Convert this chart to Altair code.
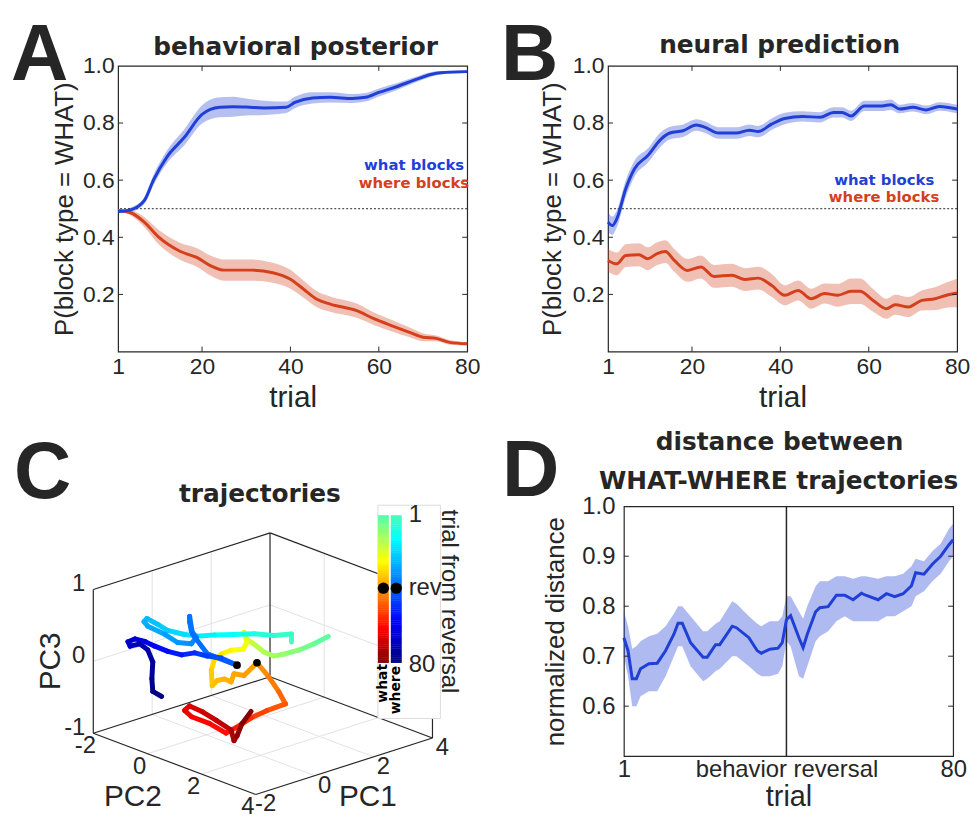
import altair as alt
import pandas as pd

FONT = "Liberation Sans"
BFONT = "DejaVu Sans"
INK = "#262626"
BLUE = "#1f3fd6"
RED = "#d5401c"

# ---------------- Panel A: behavioral posterior ----------------
A_WHAT_T = [1, 4, 7, 9, 12, 16, 20, 24, 27, 30, 34, 39, 41, 45, 49, 54, 57, 60, 64, 68, 72, 74, 80]
A_WHAT_V = [0.49, 0.497, 0.53, 0.60, 0.68, 0.75, 0.83, 0.855, 0.857, 0.856, 0.853, 0.855, 0.872,
            0.888, 0.89, 0.886, 0.89, 0.907, 0.927, 0.95, 0.971, 0.976, 0.98]
A_WHAT_E = [0.005, 0.008, 0.012, 0.018, 0.022, 0.028, 0.032, 0.035, 0.035, 0.03, 0.025, 0.02, 0.02,
            0.02, 0.018, 0.016, 0.015, 0.014, 0.012, 0.01, 0.008, 0.006, 0.005]
A_WHERE_T = [1, 4, 7, 10, 15, 19, 22, 25, 31, 36, 40, 43, 46, 49, 55, 59, 63, 67, 70, 73, 76, 80]
A_WHERE_V = [0.494, 0.485, 0.452, 0.403, 0.351, 0.328, 0.30, 0.285, 0.285, 0.276, 0.253, 0.218,
             0.183, 0.166, 0.143, 0.114, 0.09, 0.067, 0.05, 0.046, 0.032, 0.027]
A_WHERE_E = [0.005, 0.01, 0.018, 0.025, 0.03, 0.033, 0.035, 0.037, 0.037, 0.035, 0.033, 0.03,
             0.028, 0.027, 0.025, 0.022, 0.02, 0.017, 0.014, 0.01, 0.008, 0.006]

# ---------------- Panel B: neural prediction ----------------
B_WHAT_T = [1, 2, 3, 5, 7, 10, 13, 15, 18, 21, 23, 26, 30, 33, 35, 38, 41, 45, 49, 52, 54, 56, 59,
            63, 65, 67, 70, 73, 76, 80]
B_WHAT_V = [0.453, 0.441, 0.465, 0.569, 0.64, 0.686, 0.744, 0.765, 0.773, 0.793, 0.785, 0.765,
            0.765, 0.775, 0.77, 0.796, 0.816, 0.823, 0.82, 0.837, 0.837, 0.825, 0.86, 0.86, 0.864,
            0.849, 0.855, 0.846, 0.858, 0.849]
B_WHAT_E = [0.035, 0.032, 0.03, 0.03, 0.028, 0.025, 0.025, 0.022, 0.022, 0.02, 0.02, 0.02, 0.02,
            0.02, 0.02, 0.02, 0.02, 0.018, 0.018, 0.018, 0.018, 0.018, 0.018, 0.018, 0.018, 0.015,
            0.015, 0.015, 0.015, 0.015]
B_WHERE_T = [1, 3, 5, 8, 10, 12, 14, 16, 19, 22, 25, 29, 32, 35, 38, 41, 44, 47, 50, 53, 56, 58,
             61, 64, 66, 69, 72, 75, 78, 80]
B_WHERE_V = [0.319, 0.307, 0.336, 0.339, 0.325, 0.342, 0.35, 0.319, 0.284, 0.296, 0.263, 0.267,
             0.252, 0.257, 0.232, 0.197, 0.214, 0.185, 0.203, 0.197, 0.211, 0.211, 0.179, 0.15,
             0.164, 0.156, 0.179, 0.185, 0.199, 0.205]
B_WHERE_E = [0.04, 0.04, 0.04, 0.04, 0.04, 0.04, 0.04, 0.04, 0.04, 0.04, 0.04, 0.04, 0.04, 0.04,
             0.04, 0.035, 0.035, 0.035, 0.035, 0.04, 0.045, 0.045, 0.04, 0.035, 0.035, 0.035,
             0.035, 0.04, 0.045, 0.05]

# ---------------- Panel C: 3-D trajectories (PC1, PC2, PC3) ----------------
WHAT_T = [1, 4, 7, 10, 12, 14, 16, 18, 20, 22, 24, 26, 28, 30, 32, 34, 35, 36, 37, 38, 39, 40, 43,
          46, 48, 51, 54, 57, 59, 61, 63, 65, 66, 68, 70, 72, 74, 76, 78, 80]
WHAT_PC1 = [3.22, 2.72, 2.21, 1.71, 1.37, 1.03, 0.73, 0.46, 0.36, 0.46, 0.33, -0.08, -0.41, -0.65,
            -0.75, -0.72, -0.55, -0.31, -0.08, 0.02, 0.36, 0.80, 1.20, 1.54, 1.77, 1.13, 0.60,
            0.09, -0.25, -0.82, -1.42, -1.66, -1.49, -1.05, -0.58, -0.08, 0.02, 0.12, 0.29, 0.60]
WHAT_PC2 = [1.0, 1.0, 1.0, 1.0, 1.0, 1.0, 1.0, 1.0, 1.0, 1.0, 1.0, 1.0, 1.0, 1.0, 1.0, 1.0, 1.0,
            1.0, 1.0, 1.0, 1.0, 1.0, 1.0, 1.0, 1.0, 1.0, 1.0, 1.0, 1.0, 1.0, 1.0, 1.0, 1.0, 1.0,
            1.0, 1.0, 1.0, 1.0, 1.0, 1.0]
WHAT_PC3 = [0.09, 0.05, 0.03, 0.04, 0.06, 0.16, 0.30, 0.41, 0.52, 0.37, 0.29, 0.33, 0.32, 0.27,
            0.14, -0.08, -0.03, -0.04, -0.11, -0.01, -0.08, 0.04, -0.21, -0.46, -0.66, -0.67,
            -0.70, -0.77, -0.80, -0.59, -0.42, -0.30, -0.26, -0.40, -0.58, -0.78, -0.94, -0.89,
            -0.74, -0.61]
WHERE_T = [1, 3, 5, 8, 11, 14, 17, 19, 21, 23, 25, 26, 27, 29, 31, 33, 34, 35, 36, 37, 38, 39, 40,
           43, 46, 49, 52, 55, 58, 61, 64, 66, 68, 70, 72, 74, 76, 78, 80]
WHERE_PC1 = [3.81, 3.81, 3.21, 2.54, 1.86, 1.19, 0.62, 0.18, -0.39, -0.73, -1.10, -1.20, -1.07,
             -0.49, -0.06, 0.41, 0.58, 0.41, 0.35, 0.35, 0.45, 0.95, 1.96, 1.42, 0.95, 0.52, 0.08,
             -0.39, -0.83, -1.17, -1.51, -1.74, -1.67, -1.34, -1.07, -0.90, -0.93, -0.90, -0.60]
WHERE_PC2 = [-1.0, -1.0, -1.0, -1.0, -1.0, -1.0, -1.0, -1.0, -1.0, -1.0, -1.0, -1.0, -1.0, -1.0,
             -1.0, -1.0, -1.0, -1.0, -1.0, -1.0, -1.0, -1.0, -1.0, -1.0, -1.0, -1.0, -1.0, -1.0,
             -1.0, -1.0, -1.0, -1.0, -1.0, -1.0, -1.0, -1.0, -1.0, -1.0, -1.0]
WHERE_PC3 = [-0.35, -0.24, -0.18, -0.07, 0.01, 0.09, 0.15, 0.23, 0.36, 0.49, 0.62, 0.59, 0.51,
             0.32, 0.15, 0.07, 0.14, 0.25, 0.38, 0.46, 0.20, -0.14, -0.43, -0.26, -0.17, -0.07,
             -0.04, 0.07, 0.20, 0.31, 0.39, 0.38, 0.31, 0.30, 0.18, -0.01, -0.24, -0.42, -0.53]
REV_TRIAL = 40
PC1_LIM = [-2, 4]
PC2_LIM = [-2, 4]
PC3_LIM = [-1, 1]
PC1_TICKS = [-2, 0, 2, 4]
PC2_TICKS = [-2, 0, 2, 4]
PC3_TICKS = [-1, 0, 1]
N_TRIALS = 80

# ---------------- Panel D: distance between trajectories ----------------
D_T = [1, 2, 3, 4, 5, 7, 9, 11, 13, 14, 15, 17, 20, 21, 23, 24, 27, 28, 31, 33, 34, 36, 38, 39,
       40, 41, 43, 44, 45, 47, 48, 50, 52, 54, 56, 58, 59, 62, 64, 66, 68, 70, 71, 73, 75, 77, 79, 80]
D_V = [0.737, 0.711, 0.655, 0.655, 0.675, 0.685, 0.686, 0.711, 0.744, 0.766, 0.766, 0.727, 0.698,
       0.698, 0.723, 0.723, 0.76, 0.757, 0.737, 0.711, 0.706, 0.714, 0.716, 0.727, 0.773, 0.781,
       0.737, 0.717, 0.744, 0.789, 0.797, 0.799, 0.822, 0.822, 0.813, 0.826, 0.822, 0.813, 0.825,
       0.819, 0.825, 0.841, 0.867, 0.864, 0.884, 0.90, 0.923, 0.933]
D_LO = [0.70, 0.66, 0.60, 0.60, 0.62, 0.63, 0.63, 0.66, 0.70, 0.72, 0.72, 0.68, 0.65, 0.655, 0.67,
        0.675, 0.70, 0.70, 0.68, 0.665, 0.66, 0.66, 0.665, 0.68, 0.73, 0.72, 0.66, 0.655, 0.68,
        0.73, 0.74, 0.75, 0.77, 0.78, 0.77, 0.77, 0.77, 0.77, 0.78, 0.78, 0.79, 0.80, 0.82, 0.83,
        0.85, 0.865, 0.89, 0.90]
D_HI = [0.79, 0.76, 0.715, 0.72, 0.73, 0.74, 0.745, 0.76, 0.785, 0.80, 0.80, 0.78, 0.75, 0.75,
        0.765, 0.77, 0.81, 0.805, 0.78, 0.765, 0.76, 0.77, 0.77, 0.78, 0.82, 0.82, 0.79, 0.775,
        0.80, 0.84, 0.85, 0.85, 0.86, 0.86, 0.855, 0.86, 0.86, 0.855, 0.86, 0.86, 0.865, 0.88,
        0.895, 0.89, 0.91, 0.925, 0.955, 0.965]
D_REV = 40

P_TICKS = [0.2, 0.4, 0.6, 0.8, 1.0]
TRIAL_TICKS = [1, 20, 40, 60, 80]
D_YTICKS = [0.6, 0.7, 0.8, 0.9, 1.0]

LETTER_SIZE = 80
LETTER_Y = 14      # baseline of the top panel letters relative to the plot top


# ================= helpers =================
def text_layer(txt, x, y, size, weight="normal", font=FONT, align="left",
               baseline="alphabetic", color=INK, angle=0):
    return alt.Chart(pd.DataFrame({"txt": [txt]})).mark_text(
        align=align, baseline=baseline, fontSize=size, fontWeight=weight,
        font=font, color=color, angle=angle
    ).encode(text="txt:N", x=alt.value(x), y=alt.value(y))


def band_frame(t, v, e):
    return pd.DataFrame({"trial": t, "v": v,
                         "lo": [a - b for a, b in zip(v, e)],
                         "hi": [a + b for a, b in zip(v, e)]})


def inward_ticks(X, Y, xvals, yvals, W, H, L=5):
    layers = []
    ydf = pd.DataFrame({"v": yvals})
    xdf = pd.DataFrame({"trial": xvals})
    for x0, x1 in [(0, L), (W - L, W)]:
        layers.append(alt.Chart(ydf).mark_rule(color=INK, strokeWidth=1).encode(
            y=Y("v"), x=alt.value(x0), x2=alt.value(x1)))
    if xvals:
        for y0, y1 in [(0, L), (H - L, H)]:
            layers.append(alt.Chart(xdf).mark_rule(color=INK, strokeWidth=1).encode(
                x=X("trial"), y=alt.value(y0), y2=alt.value(y1)))
    return layers


def prob_panel(W, H, what, where, letter, title, title_x, title_y, leg, ypad, ytpad):
    xs = alt.Scale(domain=[1, 80], nice=False, zero=False)
    ys = alt.Scale(domain=[0, 1], nice=False, zero=False)
    xaxis = alt.Axis(values=TRIAL_TICKS, title="trial", labelFontSize=23, titleFontSize=30,
                     labelFont=FONT, titleFont=FONT, labelColor=INK, titleColor=INK,
                     titleFontWeight="normal", domain=False, ticks=False, grid=False,
                     labelPadding=4, titlePadding=4, labelFlush=False)
    yaxis = alt.Axis(values=P_TICKS, format=".1f", title="P(block type = WHAT)", labelFontSize=23,
                     titleFontSize=26, labelFont=FONT, titleFont=FONT, labelColor=INK,
                     titleColor=INK, titleFontWeight="normal", domain=False, ticks=False,
                     grid=False, labelPadding=ypad, titlePadding=ytpad, labelFlush=False)

    def X(f):
        return alt.X(f + ":Q", scale=xs, axis=xaxis)

    def Y(f):
        return alt.Y(f + ":Q", scale=ys, axis=yaxis)

    layers = []
    for df, col in [(where, RED), (what, BLUE)]:
        layers.append(alt.Chart(df).mark_area(color=col, opacity=0.33, interpolate="monotone").encode(
            x=X("trial"), y=Y("lo"), y2="hi:Q"))
    layers.append(alt.Chart(pd.DataFrame({"v": [0.5]})).mark_rule(
        color=INK, strokeWidth=1, strokeDash=[2, 2]).encode(y=Y("v")))
    for df, col in [(where, RED), (what, BLUE)]:
        layers.append(alt.Chart(df).mark_line(color=col, strokeWidth=3, interpolate="monotone").encode(
            x=X("trial"), y=Y("v")))
    layers += inward_ticks(X, Y, [20, 40, 60], [0.2, 0.4, 0.6, 0.8], W, H)
    layers.append(text_layer("what blocks", leg[0], leg[1], 15, "bold", BFONT, "right", "middle", BLUE))
    layers.append(text_layer("where blocks", leg[2], leg[3], 15, "bold", BFONT, "right", "middle", RED))
    layers.append(text_layer(title, title_x, title_y, 25, "bold", BFONT, "center"))
    layers.append(text_layer(letter, -108, LETTER_Y, LETTER_SIZE, "bold", FONT, "left"))
    return alt.layer(*layers).properties(width=W, height=H)


# ================= Panels A and B =================
TOP_H = 288
chartA = prob_panel(352, TOP_H, band_frame(A_WHAT_T, A_WHAT_V, A_WHAT_E),
                    band_frame(A_WHERE_T, A_WHERE_V, A_WHERE_E),
                    "A", "behavioral posterior", 179, -11, (349, 100, 354, 118), 4, 5)
chartB = prob_panel(352, TOP_H, band_frame(B_WHAT_T, B_WHAT_V, B_WHAT_E),
                    band_frame(B_WHERE_T, B_WHERE_V, B_WHERE_E),
                    "B", "neural prediction", 173, -13, (329, 115, 334, 132), 4, 7)

# ================= Panel C: 3-D projection =================
# view of the 3-D axes (screen px per unit of PC1, PC2, PC3)
E1 = (29.7, 9.5)
E2 = (27.3, -10.3)
E3 = (0.0, 72.5)


def proj(p1, p2, p3):
    return (E1[0] * p1 + E2[0] * p2 + E3[0] * p3,
            E1[1] * p1 + E2[1] * p2 + E3[1] * p3)


def seg_frame(segs):
    rows = []
    for a, b in segs:
        u, w = proj(*a)
        u2, w2 = proj(*b)
        rows.append({"u": u, "w": w, "u2": u2, "w2": w2})
    return pd.DataFrame(rows)


x0, x1 = PC1_LIM
y0, y1 = PC2_LIM
z0, z1 = PC3_LIM
box_segs = [((x0, y0, z0), (x1, y0, z0)), ((x1, y0, z0), (x1, y1, z0)),
            ((x1, y1, z0), (x0, y1, z0)), ((x0, y1, z0), (x0, y0, z0)),
            ((x0, y0, z0), (x0, y0, z1)), ((x1, y0, z0), (x1, y0, z1)),
            ((x1, y1, z0), (x1, y1, z1)),
            ((x0, y0, z1), (x1, y0, z1)), ((x1, y0, z1), (x1, y1, z1))]
grid_segs = []
for a in PC1_TICKS[1:-1]:
    grid_segs.append(((a, y0, z0), (a, y0, z1)))
    grid_segs.append(((a, y0, z0), (a, y1, z0)))
for b in PC2_TICKS[1:-1]:
    grid_segs.append(((x1, b, z0), (x1, b, z1)))
    grid_segs.append(((x0, b, z0), (x1, b, z0)))
for c in PC3_TICKS[1:-1]:
    grid_segs.append(((x0, y0, c), (x1, y0, c)))
    grid_segs.append(((x1, y0, c), (x1, y1, c)))


def traj_frame(t, p1, p2, p3, sign):
    rows = []
    for i in range(len(t) - 1):
        u, w = proj(p1[i], p2[i], p3[i])
        u2, w2 = proj(p1[i + 1], p2[i + 1], p3[i + 1])
        rows.append({"u": u, "w": w, "u2": u2, "w2": w2, "v": sign * (t[i] + t[i + 1]) / 2})
    return pd.DataFrame(rows)


def rev_point(t, p1, p2, p3):
    i = t.index(REV_TRIAL)
    u, w = proj(p1[i], p2[i], p3[i])
    return {"u": u, "w": w}


JET = alt.Scale(domain=[-80, -57.8, -13.3, 0, 25.5, 61.8, 80],
                range=["#00007f", "#0000ff", "#00ffff", "#4dffb3", "#ffff00", "#ff0000", "#7f0000"],
                interpolate="rgb")

CW, CH = 340, 252
C_WTOP = 158
XS_C = alt.Scale(domain=[-89, -89 + CW], nice=False, zero=False)
YS_C = alt.Scale(domain=[C_WTOP - CH, C_WTOP], nice=False, zero=False)


def cx(f="u"):
    return alt.X(f + ":Q", scale=XS_C, axis=None)


def cy(f="w"):
    return alt.Y(f + ":Q", scale=YS_C, axis=None)


c_layers = []
c_layers.append(alt.Chart(seg_frame(grid_segs)).mark_rule(color="#e2e2e2", strokeWidth=1).encode(
    x=cx(), y=cy(), x2="u2:Q", y2="w2:Q"))
c_layers.append(alt.Chart(seg_frame(box_segs)).mark_rule(color=INK, strokeWidth=1.2).encode(
    x=cx(), y=cy(), x2="u2:Q", y2="w2:Q"))


def tick_text(points, labels, dx, dy, align="center"):
    rows = []
    for p, lab in zip(points, labels):
        u, w = proj(*p)
        rows.append({"u": u + dx, "w": w - dy, "txt": lab})
    return alt.Chart(pd.DataFrame(rows)).mark_text(
        fontSize=24, font=FONT, color=INK, align=align, baseline="middle"
    ).encode(x=cx(), y=cy(), text="txt:N")


c_layers.append(tick_text([(x0, b, z0) for b in PC2_TICKS], [str(b) for b in PC2_TICKS], -8, 13))
c_layers.append(tick_text([(a, y1, z0) for a in PC1_TICKS], [str(a) for a in PC1_TICKS], 10, 10))
c_layers.append(tick_text([(x0, y0, c) for c in PC3_TICKS], [str(c) for c in PC3_TICKS], -8, -5, "right"))


def axis_title(p, txt, dx, dy, angle=0):
    u, w = proj(*p)
    return alt.Chart(pd.DataFrame({"u": [u + dx], "w": [w - dy], "txt": [txt]})).mark_text(
        fontSize=30, font=FONT, color=INK, angle=angle, align="center",
        baseline="middle").encode(x=cx(), y=cy(), text="txt:N")


c_layers.append(axis_title((x0, (y0 + y1) / 2, z0), "PC2", -42, 33))
c_layers.append(axis_title(((x0 + x1) / 2, y1, z0), "PC1", 24, 31))
c_layers.append(axis_title((x0, y0, (z0 + z1) / 2), "PC3", -43, 0, 270))

# trajectories
for fr in [traj_frame(WHAT_T, WHAT_PC1, WHAT_PC2, WHAT_PC3, 1),
           traj_frame(WHERE_T, WHERE_PC1, WHERE_PC2, WHERE_PC3, -1)]:
    c_layers.append(alt.Chart(fr).mark_rule(strokeWidth=5, strokeCap="round").encode(
        x=cx(), y=cy(), x2="u2:Q", y2="w2:Q",
        color=alt.Color("v:Q", scale=JET, legend=None)))
revs = pd.DataFrame([rev_point(WHERE_T, WHERE_PC1, WHERE_PC2, WHERE_PC3),
                     rev_point(WHAT_T, WHAT_PC1, WHAT_PC2, WHAT_PC3)])
c_layers.append(alt.Chart(revs).mark_point(filled=True, color="black", size=60, opacity=1).encode(
    x=cx(), y=cy()))

# colorbar inset (layout in panel px)
CB_BOX = {"u": [173], "u2": [236], "w": [159], "w2": [-56]}
CB_WHAT_U = (173, 184)
CB_WHERE_U = (186, 197)
CB_TOP, CB_BOT = 149, 0
step = (CB_TOP - CB_BOT) / N_TRIALS
cb_rows = []
for t in range(1, N_TRIALS + 1):
    wt = CB_TOP - (t - 1) * step
    wb = wt - step - 0.4
    cb_rows.append({"u": CB_WHAT_U[0], "u2": CB_WHAT_U[1], "w": wt, "w2": max(wb, CB_BOT), "v": t})
    cb_rows.append({"u": CB_WHERE_U[0], "u2": CB_WHERE_U[1], "w": wt, "w2": max(wb, CB_BOT), "v": -t})
c_layers.append(alt.Chart(pd.DataFrame(CB_BOX)).mark_rect(
    fill="white", stroke="#dcdcdc", strokeWidth=1).encode(x=cx(), x2="u2:Q", y=cy(), y2="w2:Q"))
c_layers.append(alt.Chart(pd.DataFrame(cb_rows)).mark_rect().encode(
    x=cx(), x2="u2:Q", y=cy(), y2="w2:Q", color=alt.Color("v:Q", scale=JET, legend=None)))
w_rev = CB_TOP - (REV_TRIAL - 0.5) * step
cb_dots = pd.DataFrame({"u": [sum(CB_WHAT_U) / 2, sum(CB_WHERE_U) / 2], "w": [w_rev, w_rev]})
c_layers.append(alt.Chart(cb_dots).mark_point(filled=True, color="black", size=130, opacity=1).encode(
    x=cx(), y=cy()))
cb_labels = pd.DataFrame({"u": [204, 204, 204], "w": [CB_TOP, w_rev, CB_BOT - 2],
                          "txt": ["1", "rev", str(N_TRIALS)]})
c_layers.append(alt.Chart(cb_labels).mark_text(
    fontSize=24, font=FONT, color=INK, align="left", baseline="middle").encode(
    x=cx(), y=cy(), text="txt:N"))
c_layers.append(alt.Chart(pd.DataFrame({"u": [245], "w": [62], "txt": ["trial from reversal"]})).mark_text(
    fontSize=24, font=FONT, color=INK, align="center", baseline="middle", angle=90).encode(
    x=cx(), y=cy(), text="txt:N"))
c_layers.append(alt.Chart(pd.DataFrame({"u": [sum(CB_WHAT_U) / 2, sum(CB_WHERE_U) / 2],
                                        "w": [CB_BOT - 1, CB_BOT - 3],
                                        "txt": ["what", "where"]})).mark_text(
    fontSize=14, font=BFONT, fontWeight="bold", color="black", align="right", baseline="middle",
    angle=270).encode(x=cx(), y=cy(), text="txt:N"))
c_layers.append(text_layer("trajectories", 143, -4, 25, "bold", BFONT, "center"))
c_layers.append(text_layer("C", -105, -8, LETTER_SIZE, "bold", FONT, "left"))
chartC = alt.layer(*c_layers).properties(
    width=CW, height=CH, view=alt.ViewBackground(strokeOpacity=0))

# ================= Panel D =================
DW, DH = 332, 252
xsD = alt.Scale(domain=[1, 80], nice=False, zero=False)
ysD = alt.Scale(domain=[0.5, 1.0], nice=False, zero=False)
d_df = pd.DataFrame({"trial": D_T, "v": D_V, "lo": D_LO, "hi": D_HI})
dx_axis = alt.Axis(values=[1, D_REV, 80], title="trial", labelFontSize=24, titleFontSize=29,
                   labelFont=FONT, titleFont=FONT, labelColor=INK, titleColor=INK,
                   titleFontWeight="normal", domain=False, ticks=False, grid=False,
                   labelPadding=2, titlePadding=1, labelFlush=False, labelOverlap=False,
                   labelLimit=400,
                   labelExpr="datum.value == 1 ? '1' : datum.value == 80 ? '80' : 'behavior reversal'")
dy_axis = alt.Axis(values=D_YTICKS, format=".1f", title="normalized distance", labelFontSize=24,
                   titleFontSize=26, labelFont=FONT, titleFont=FONT, labelColor=INK,
                   titleColor=INK, titleFontWeight="normal", domain=False, ticks=False,
                   grid=False, labelPadding=9, titlePadding=14, labelFlush=False)


def DX(f):
    return alt.X(f + ":Q", scale=xsD, axis=dx_axis)


def DY(f):
    return alt.Y(f + ":Q", scale=ysD, axis=dy_axis)


d_layers = [
    alt.Chart(d_df).mark_area(color=BLUE, opacity=0.36).encode(x=DX("trial"), y=DY("lo"), y2="hi:Q"),
    alt.Chart(pd.DataFrame({"trial": [D_REV]})).mark_rule(color=INK, strokeWidth=1.5).encode(
        x=DX("trial")),
    alt.Chart(d_df).mark_line(color=BLUE, strokeWidth=3).encode(x=DX("trial"), y=DY("v")),
]
d_layers += inward_ticks(DX, DY, [], [0.6, 0.7, 0.8, 0.9], DW, DH)
d_layers.append(text_layer("distance between", 157, -57, 25, "bold", BFONT, "center"))
d_layers.append(text_layer("WHAT-WHERE trajectories", 156, -17, 25, "bold", BFONT, "center"))
d_layers.append(text_layer("D", -123, -10, LETTER_SIZE, "bold", FONT, "left"))
chartD = alt.layer(*d_layers).properties(width=DW, height=DH)

top = alt.hconcat(chartA, chartB, spacing=142, bounds="flush")
bottom = alt.hconcat(chartC, chartD, spacing=170, bounds="flush")
chart = alt.vconcat(top, bottom, spacing=TOP_H + 156, bounds="flush").properties(
    padding={"left": 2, "top": 4, "right": 0, "bottom": 0}
).configure_view(stroke=INK, strokeWidth=1.2)

chart.save("out.html", embed_options={"renderer": "svg", "actions": False})
